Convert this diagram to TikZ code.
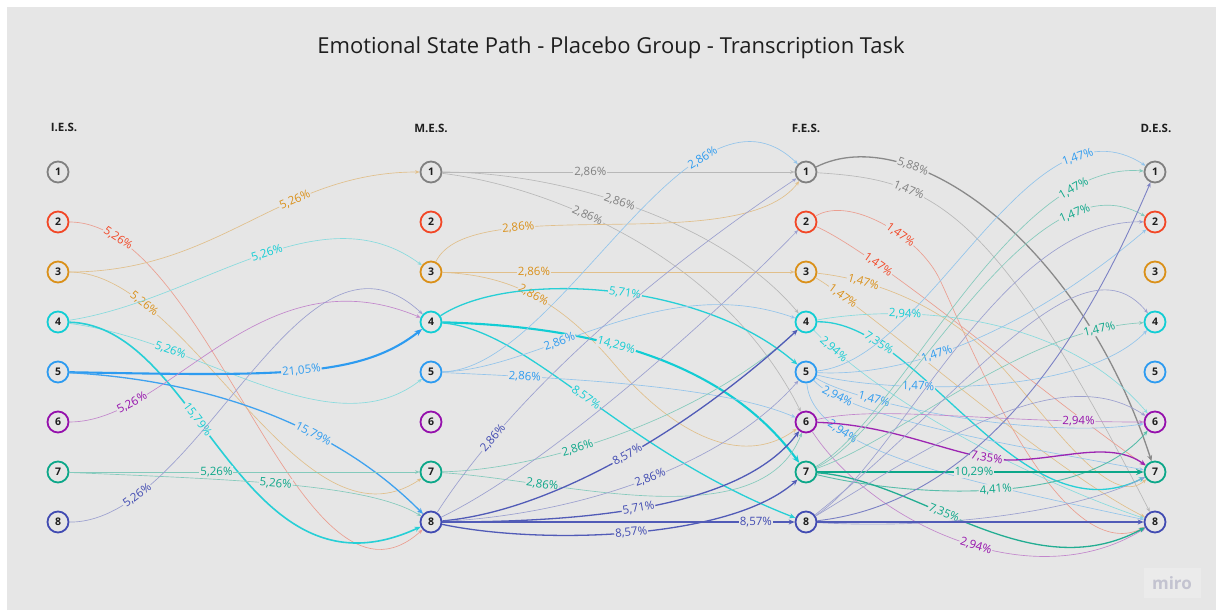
\documentclass[tikz,border=0pt]{standalone}
\usepackage{fontspec}
\setmainfont{Open Sans}
\usetikzlibrary{arrows.meta}
\definecolor{bg}{HTML}{E6E6E6}
\definecolor{ink}{HTML}{1E1E1E}
\definecolor{cgray}{HTML}{808080}
\definecolor{cred}{HTML}{F24726}
\definecolor{corange}{HTML}{DA9019}
\definecolor{ccyan}{HTML}{12CDD4}
\definecolor{cblue}{HTML}{2D9BF0}
\definecolor{cpurple}{HTML}{9510AC}
\definecolor{cgreen}{HTML}{0CA789}
\definecolor{cindigo}{HTML}{414BB2}
\definecolor{wmfill}{HTML}{EBEBEB}
\definecolor{wmtext}{HTML}{C3C3D0}
\begin{document}
\begin{tikzpicture}[x=1pt,y=-1pt,
  st/.style={circle, draw=#1, line width=1.8pt, fill=bg, minimum size=21pt, inner sep=0pt,
             text=ink, font=\bfseries\fontsize{10.5}{12}\selectfont},
  head/.style={text=ink, font=\bfseries\fontsize{11.5}{13}\selectfont},
  e/.style={draw=#1!45!bg, line width=.65pt, -{Stealth[length=4.5pt,width=3.6pt]}},
  ef/.style={draw=#1!65!bg, line width=.9pt, -{Stealth[length=5pt,width=4pt]}},
  em/.style={draw=#1!90!bg, line width=1.3pt, -{Stealth[length=6pt,width=5pt]}},
  et/.style={draw=#1, line width=2.1pt, -{Stealth[length=7.5pt,width=6pt]}},
  lab/.style={sloped, fill=bg, inner sep=1pt, text=#1, font=\fontsize{11.5}{13}\selectfont},
]
% canvas
\fill[white] (0,0) rectangle (1216,610);
\fill[bg] (7,7) rectangle (1216,610);
\useasboundingbox (0,0) rectangle (1216,610);

% title and column heads
\node[text=ink, font=\fontsize{22}{26}\selectfont] (title) at (611,48)
  {Emotional State Path - Placebo Group - Transcription Task};
\node[head] (hI) at (64,127) {I.E.S.};
\node[head] (hM) at (431,128) {M.E.S.};
\node[head] (hF) at (806,128) {F.E.S.};
\node[head] (hD) at (1156,128) {D.E.S.};

% state circles
\foreach \k/\c in {1/cgray,2/cred,3/corange,4/ccyan,5/cblue,6/cpurple,7/cgreen,8/cindigo}{
  \node[st=\c] (I\k) at (58,{172+50*(\k-1)}) {\k};
  \node[st=\c] (M\k) at (431,{172+50*(\k-1)}) {\k};
  \node[st=\c] (F\k) at (806,{172+50*(\k-1)}) {\k};
  \node[st=\c] (D\k) at (1155,{172+50*(\k-1)}) {\k};
}

% ---- I.E.S. -> M.E.S.
\draw[e=cred] (I2) .. controls (210,222) and (300,640) .. node[lab=cred,pos=.12]{5,26\%} (M8);
\draw[e=corange] (I3) .. controls (220,272) and (280,172) .. node[lab=corange,pos=.65]{5,26\%} (M1);
\draw[e=corange] (I3) .. controls (190,272) and (300,560) .. node[lab=corange,pos=.21]{5,26\%} (M7);
\draw[e=ccyan] (I4) .. controls (200,300) and (320,190) .. node[lab=ccyan,pos=.53]{5,26\%} (M3);
\draw[e=ccyan] (I4) .. controls (200,340) and (330,450) .. node[lab=ccyan,pos=.26]{5,26\%} (M5);
\draw[em=ccyan,line width=1.6pt] (I4) .. controls (200,325) and (240,610) .. node[lab=ccyan,pos=.4]{15,79\%} (M8);
\draw[et=cblue] (I5) .. controls (280,376) and (360,378) .. node[lab=cblue,pos=.5]{21,05\%} (M4);
\draw[em=cblue] (I5) .. controls (200,380) and (330,420) .. node[lab=cblue,pos=.65]{15,79\%} (M8);
\draw[e=cpurple] (I6) .. controls (170,422) and (260,250) .. node[lab=cpurple,pos=.21]{5,26\%} (M4);
\draw[e=cgreen] (I7) -- node[lab=cgreen,pos=.42]{5,26\%} (M7);
\draw[e=cgreen] (I7) .. controls (250,480) and (370,485) .. node[lab=cgreen,pos=.45]{5,26\%} (M8);
\draw[e=cindigo] (I8) .. controls (200,523) and (300,200) .. node[lab=cindigo,pos=.18]{5,26\%} (M4);

% ---- M.E.S. -> F.E.S.
\draw[e=cgray] (M1) -- node[lab=cgray,pos=.42]{2,86\%} (F1);
\draw[e=cgray] (M1) .. controls (560,172) and (720,220) .. node[lab=cgray,pos=.46]{2,86\%} (F4);
\draw[e=cgray] (M1) .. controls (540,185) and (720,250) .. node[lab=cgray,pos=.4]{2,86\%} (F6);
\draw[e=corange] (M3) .. controls (470,190) and (740,260) .. node[lab=corange,pos=.3]{2,86\%} (F1);
\draw[e=corange] (M3) -- node[lab=corange,pos=.26]{2,86\%} (F3);
\draw[e=corange] (M3) .. controls (510,275) and (560,300) .. node[lab=corange,pos=.5]{2,86\%} (615,365)
   .. controls (670,430) and (740,470) .. (F6);
\draw[em=ccyan] (M4) .. controls (510,270) and (700,280) .. node[lab=ccyan,pos=.54]{5,71\%} (F5);
\draw[et=ccyan] (M4) .. controls (580,326) and (720,355) .. node[lab=ccyan,pos=.43]{14,29\%} (F7);
\draw[em=ccyan] (M4) .. controls (530,330) and (620,450) .. node[lab=ccyan,pos=.5]{8,57\%} (F8);
\draw[e=cblue] (M5) .. controls (560,370) and (690,60) .. node[lab=cblue,pos=.72]{2,86\%} (F1);
\draw[e=cblue] (M5) .. controls (540,370) and (660,270) .. node[lab=cblue,pos=.37]{2,86\%} (F4);
\draw[e=cblue] (M5) .. controls (560,378) and (720,385) .. node[lab=cblue,pos=.22]{2,86\%} (F6);
\draw[e=cgreen] (M7) .. controls (540,470) and (700,420) .. node[lab=cgreen,pos=.39]{2,86\%} (F4);
\draw[e=cgreen] (M7) .. controls (560,480) and (760,540) .. node[lab=cgreen,pos=.25]{2,86\%} (F6);
\draw[e=cindigo] (M8) .. controls (490,430) and (600,310) .. node[lab=cindigo,pos=.27]{2,86\%} (F1);
\draw[e=cindigo] (M8) .. controls (540,470) and (700,330) .. (F2);
\draw[em=cindigo] (M8) .. controls (560,510) and (700,420) .. node[lab=cindigo,pos=.5]{8,57\%} (F4);
\draw[e=cindigo] (M8) .. controls (570,515) and (720,470) .. node[lab=cindigo,pos=.53]{2,86\%} (F5);
\draw[em=cindigo] (M8) .. controls (580,522) and (740,510) .. node[lab=cindigo,pos=.47]{5,71\%} (F6);
\draw[em=cindigo] (M8) -- node[lab=cindigo,pos=.89]{8,57\%} (F8);
\draw[em=cindigo] (M8) .. controls (540,545) and (730,540) .. node[lab=cindigo,pos=.5]{8,57\%} (F7);

% ---- F.E.S. -> D.E.S.
\draw[em=cgray] (F1) .. controls (910,120) and (1080,240) .. node[lab=cgray,pos=.29]{5,88\%} (D7);
\draw[e=cgray] (F1) .. controls (930,180) and (990,200) .. node[lab=cgray,pos=.3]{1,47\%} (D8);
\draw[e=cred] (F2) .. controls (850,195) and (920,237) .. node[lab=cred,pos=.62]{1,47\%} (940,280)
   .. controls (970,344) and (1060,570) .. (D8);
\draw[e=cred] (F2) .. controls (880,255) and (1050,400) .. node[lab=cred,pos=.24]{1,47\%} (D7);
\draw[e=corange] (F3) .. controls (880,280) and (950,310) .. node[lab=corange,pos=.24]{1,47\%} (1000,365)
   .. controls (1050,420) and (1110,510) .. (D7);
\draw[e=corange] (F3) .. controls (870,310) and (1050,470) .. node[lab=corange,pos=.13]{1,47\%} (D8);
\draw[e=ccyan] (F4) .. controls (900,305) and (1060,310) .. node[lab=ccyan,pos=.29]{2,94\%} (D6);
\draw[em=ccyan] (F4) .. controls (920,320) and (1020,540) .. node[lab=ccyan,pos=.2]{7,35\%} (D7);
\draw[e=ccyan] (F4) .. controls (880,400) and (1030,480) .. node[lab=ccyan,pos=.09]{2,94\%} (D8);
\draw[e=cblue] (F5) .. controls (930,360) and (1030,90) .. node[lab=cblue,pos=.8]{1,47\%} (D1);
\draw[e=cblue] (F5) .. controls (920,378) and (1040,320) .. node[lab=cblue,pos=.37]{1,47\%} (D2);
\draw[e=cblue] (F5) .. controls (880,392) and (1080,400) .. node[lab=cblue,pos=.34]{1,47\%} (D4);
\draw[e=cblue] (F5) .. controls (860,405) and (1040,440) .. node[lab=cblue,pos=.26]{1,47\%} (D6);
\draw[e=cblue] (F5) .. controls (850,420) and (1040,450) .. node[lab=cblue,pos=.14]{2,94\%} (D7);
\draw[e=cblue] (F5) .. controls (812,450) and (960,480) .. node[lab=cblue,pos=.28]{2,94\%} (D8);
\draw[e=cpurple] (F6) .. controls (880,405) and (980,422) .. node[lab=cpurple,pos=.86]{2,94\%} (D6);
\draw[em=cpurple] (F6) .. controls (900,425) and (960,460) .. node[lab=cpurple,pos=.85]{7,35\%} (1010,460)
   .. controls (1060,460) and (1110,440) .. (D7);
\draw[e=cpurple] (F6) .. controls (870,520) and (1030,600) .. node[lab=cpurple,pos=.55]{2,94\%} (D8);
\draw[e=cgreen] (F7) .. controls (900,420) and (1010,160) .. node[lab=cgreen,pos=.82]{1,47\%} (D1);
\draw[e=cgreen] (F7) .. controls (900,430) and (1030,150) .. node[lab=cgreen,pos=.8]{1,47\%} (D2);
\draw[e=cgreen] (F7) .. controls (900,440) and (1020,330) .. node[lab=cgreen,pos=.88]{1,47\%} (D4);
\draw[ef=cgreen] (F7) .. controls (900,495) and (1080,510) .. node[lab=cgreen,pos=.52]{4,41\%} (D6);
\draw[et=cgreen] (F7) -- node[lab=cgreen,pos=.48]{10,29\%} (D7);
\draw[em=cgreen] (F7) .. controls (920,480) and (1030,590) .. node[lab=cgreen,pos=.4]{7,35\%} (D8);
\draw[ef=cindigo] (F8) .. controls (1000,500) and (1100,300) .. (D1);
\draw[e=cindigo] (F8) .. controls (900,460) and (1000,220) .. (D2);
\draw[e=cindigo] (F8) .. controls (960,400) and (1080,230) .. (D4);
\draw[e=cindigo] (F8) .. controls (940,440) and (1060,360) .. (D6);
\draw[e=cindigo] (F8) .. controls (950,530) and (1080,510) .. (D7);
\draw[em=cindigo] (F8) -- (D8);

% watermark
\node[fill=wmfill, minimum width=57pt, minimum height=30pt, inner sep=0pt,
      text=wmtext, font=\bfseries\fontsize{17}{20}\selectfont] (wm) at (1172,583) {miro};
\end{tikzpicture}
\end{document}
